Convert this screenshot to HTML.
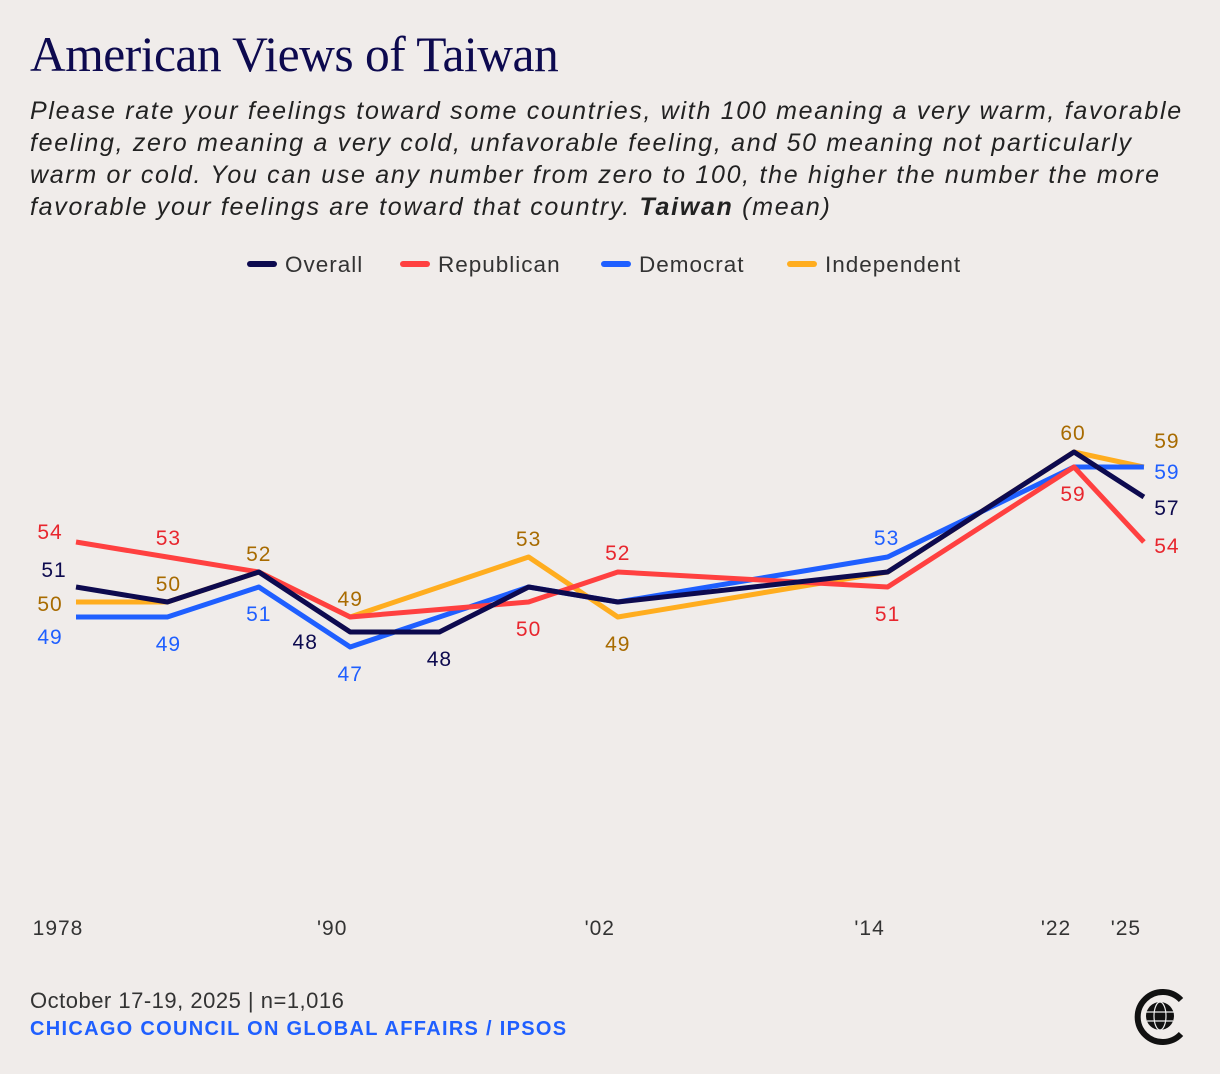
<!DOCTYPE html>
<html><head><meta charset="utf-8"><style>
body{margin:0;background:#f0ecea;width:1220px;height:1074px;overflow:hidden;position:relative;font-family:"Liberation Sans",sans-serif}
#title{position:absolute;left:30px;top:26px;font-family:"Liberation Serif",serif;font-size:49.5px;color:#0d0a4f;margin:0;font-weight:normal;letter-spacing:-0.5px}
#sub{position:absolute;left:30px;top:95px;width:1190px;font-style:italic;font-size:25px;line-height:32px;color:#222;letter-spacing:1.7px;white-space:nowrap}
#foot1{position:absolute;left:30px;top:988px;font-size:22px;color:#333;letter-spacing:0.5px}
#foot2{position:absolute;left:30px;top:1018px;font-size:20px;color:#1f5fff;font-weight:bold;letter-spacing:1.3px}
svg{position:absolute;left:0;top:0}
</style></head><body>
<h1 id="title">American Views of Taiwan</h1>
<div id="sub">Please rate your feelings toward some countries, with 100 meaning a very warm, favorable<br>feeling, zero meaning a very cold, unfavorable feeling, and 50 meaning not particularly<br>warm or cold. You can use any number from zero to 100, the higher the number the more<br>favorable your feelings are toward that country. <b>Taiwan</b> (mean)</div>
<div id="foot1">October 17-19, 2025 | n=1,016</div>
<div id="foot2">CHICAGO COUNCIL ON GLOBAL AFFAIRS / IPSOS</div>
<svg id="chart" width="1220" height="1074"></svg>
<script>
const years=[1978,1982,1986,1990,1994,1998,2002,2014,2022,2025];
const overall=[51,50,52,48,48,51,50,52,60,57];
const republican=[54,53,52,49,49.5,50,52,51,59,54];
const democrat=[49,49,51,47,49,51,50,53,59,59];
const independent=[50,50,52,49,51,53,49,52,60,59];
const tickYears=[1978,1990,2002,2014,2022,2025];
const tickLabels=["1978","'90","'02","'14","'22","'25"];
// label specs: [index, dx, dy]
const labOverall=[[0,-22,-17],[3,-45,10],[4,0,27],[9,23,11]];
const labRep=[[0,-26,-10],[1,1,-19],[5,0,27],[6,0,-19],[7,0,27],[8,-1,27],[9,23,4]];
const labDem=[[0,-26,20],[1,1,27],[2,0,27],[3,0,27],[7,-1,-19],[9,23,5]];
const labInd=[[0,-26,2],[1,1,-18],[2,0,-18],[3,0,-18],[5,0,-18],[6,0,27],[8,-1,-19],[9,23,-26]];
const x=y=>76+(y-1978)*22.85-(y>1990?Math.min(y-1990,20)*0.55:0)+(y>2014?(y-2014)*0.45:0);
const yv=v=>1352-15*v;
const svg=document.getElementById('chart');
const NS='http://www.w3.org/2000/svg';
function mk(t,a){const e=document.createElementNS(NS,t);for(const k in a)e.setAttribute(k,a[k]);svg.appendChild(e);return e;}
tickYears.forEach((t,i)=>{const e=mk('text',{x:x(t)-18,y:935,'font-size':21,fill:'#333','text-anchor':'middle','letter-spacing':1,'font-family':'Liberation Sans, sans-serif'});e.textContent=tickLabels[i];

});
const leg=[["Overall","#0d0a4f",247],["Republican","#ff4040",400],["Democrat","#1f5fff",601],["Independent","#ffad1f",787]];
leg.forEach(l=>{const s=mk('line',{x1:l[2]+3,x2:l[2]+27,y1:264,y2:264,stroke:l[1],'stroke-width':6,'stroke-linecap':'round'});


const t=mk('text',{x:l[2]+38,y:272,'font-size':22.5,fill:'#333','letter-spacing':1,'font-family':'Liberation Sans, sans-serif'});t.textContent=l[0];

});
function line(vals,color,name){const p=mk('polyline',{points:vals.map((v,i)=>x(years[i])+','+yv(v)).join(' '),fill:'none',stroke:color,'stroke-width':5,'stroke-linejoin':'round'});

}
line(independent,'#ffad1f','independent-line');
line(democrat,'#1f5fff','democrat-line');
line(republican,'#ff4040','republican-line');
line(overall,'#0d0a4f','overall-line');
function labels(vals,spec,color,name){spec.forEach(s=>{const e=mk('text',{x:x(years[s[0]])+s[1],y:yv(vals[s[0]])+s[2]+7,'font-size':21,fill:color,'text-anchor':'middle','letter-spacing':1,'font-family':'Liberation Sans, sans-serif'});e.textContent=String(Math.round(vals[s[0]]));

});}
labels(overall,labOverall,'#0d0a4f','overall-value-label');
labels(republican,labRep,'#e8262e','republican-value-label');
labels(democrat,labDem,'#1f5fff','democrat-value-label');
labels(independent,labInd,'#a86b00','independent-value-label');
const g=mk('g',{});


mk('path',{d:'M1181,1000 A25,25 0 1 0 1181,1034',fill:'none',stroke:'#111','stroke-width':6});
mk('circle',{cx:1160,cy:1016,r:14,fill:'#111'});
mk('ellipse',{cx:1160,cy:1016,rx:6,ry:14,fill:'none',stroke:'#eee','stroke-width':1.2});
mk('line',{x1:1146,x2:1174,y1:1012,y2:1012,stroke:'#eee','stroke-width':1.2});
mk('line',{x1:1147,x2:1173,y1:1021,y2:1021,stroke:'#eee','stroke-width':1.2});
</script>
</body></html>
